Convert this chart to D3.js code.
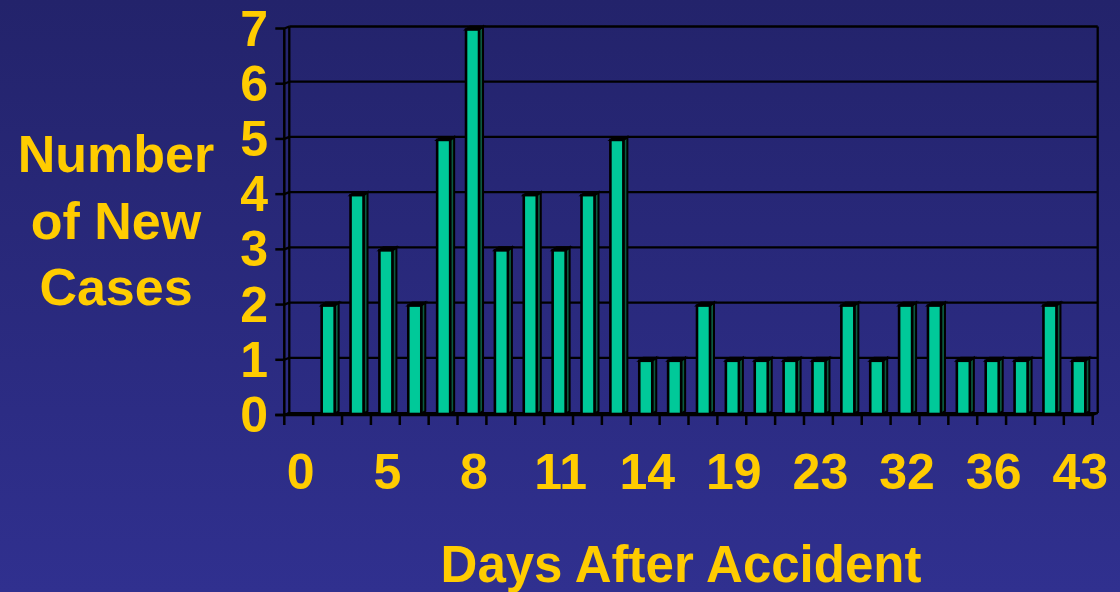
<!DOCTYPE html>
<html>
<head>
<meta charset="utf-8">
<script src="https://cdn.jsdelivr.net/npm/d3@7"></script>
<style>
  html, body { margin: 0; padding: 0; background: #2a2a80; }
  svg { display: block; }
  text { font-family: "Liberation Sans", Arial, sans-serif; font-weight: bold; fill: #ffcc00; }
</style>
</head>
<body>
<svg id="chart" width="1120" height="592"></svg>
<script>
// New cases per day, one column per reporting day
const newCases = [0, 2, 4, 3, 2, 5, 7, 3, 4, 3, 4, 5, 1, 1, 2, 1, 1, 1, 1, 2, 1, 2, 2, 1, 1, 1, 2, 1];
// Day labels shown under every third column
const dayLabels = ["0", "5", "8", "11", "14", "19", "23", "32", "36", "43"];
const dayLabelStep = 3;
const yTicks = [0, 1, 2, 3, 4, 5, 6, 7];
const yTitle = ["Number", "of New", "Cases"];
const xTitle = "Days After Accident";

const W = 1120, H = 592;
const svg = d3.select("#chart");

// backdrop gradient
const defs = svg.append("defs");
const grad = defs.append("linearGradient").attr("id", "bg").attr("x1", 0).attr("y1", 0).attr("x2", 0).attr("y2", 1);
grad.append("stop").attr("offset", "0%").attr("stop-color", "#23236b");
grad.append("stop").attr("offset", "100%").attr("stop-color", "#30308f");
svg.append("rect").attr("width", W).attr("height", H).attr("fill", "url(#bg)");

// 3D depth offset between the front plane and the back wall
const depthX = 5, depthY = -2;

const x = d3.scaleBand().domain(d3.range(newCases.length)).range([284.3, 1092.7]).padding(0);
const y = d3.scaleLinear().domain([0, 7]).range([415, 28.5]);   // front plane
const yWall = v => y(v) + depthY;                                // back wall

const xL = x.range()[0], xR = x.range()[1];

// back wall grid lines
const grid = svg.append("g").attr("stroke", "#000").attr("stroke-width", 2.3).attr("fill", "none");
grid.selectAll("line.h").data(yTicks.filter(v => v > 0)).join("line")
  .attr("x1", xL + depthX).attr("x2", xR + depthX)
  .attr("y1", d => yWall(d)).attr("y2", d => yWall(d));
// short connectors from front axis to wall
grid.selectAll("line.c").data(yTicks).join("line")
  .attr("x1", xL).attr("x2", xL + depthX)
  .attr("y1", d => y(d)).attr("y2", d => yWall(d));
// wall left and right edges
grid.append("line").attr("x1", xL + depthX).attr("x2", xL + depthX).attr("y1", yWall(7)).attr("y2", yWall(0));
grid.append("line").attr("x1", xR + depthX).attr("x2", xR + depthX).attr("y1", yWall(7)).attr("y2", yWall(0));

// floor
svg.append("path")
  .attr("d", `M${xL},${y(0)}L${xL + depthX},${yWall(0)}L${xR + depthX},${yWall(0)}L${xR},${y(0)}Z`)
  .attr("fill", "#000").attr("stroke", "#000").attr("stroke-width", 2);

// columns
const barOffset = 8.5, barW = 13, sideX = 4, sideY = -3;
const bars = svg.append("g");
newCases.forEach((v, i) => {
  if (v <= 0) return;
  const x0 = x(i) + barOffset, x1 = x0 + barW;
  const top = y(v) + 1, bot = y(0) - 1;
  const g = bars.append("g").attr("stroke", "#000").attr("stroke-linejoin", "miter");
  // side face
  g.append("path")
    .attr("d", `M${x1},${top}L${x1 + sideX},${top + sideY}L${x1 + sideX},${bot + sideY}L${x1},${bot}Z`)
    .attr("fill", "#0a5a40").attr("stroke-width", 2);
  // top face
  g.append("path")
    .attr("d", `M${x0},${top}L${x0 + sideX},${top + sideY}L${x1 + sideX},${top + sideY}L${x1},${top}Z`)
    .attr("fill", "#000").attr("stroke-width", 2);
  // front face
  g.append("rect")
    .attr("x", x0).attr("y", top).attr("width", barW).attr("height", bot - top)
    .attr("fill", "#00c999").attr("stroke-width", 2.6);
});

// front value axis
const yAxis = svg.append("g").attr("stroke", "#000").attr("stroke-width", 2.5);
yAxis.append("line").attr("x1", xL).attr("x2", xL).attr("y1", y(7)).attr("y2", y(0));
yAxis.selectAll("line.t").data(yTicks).join("line")
  .attr("x1", xL - 9).attr("x2", xL).attr("y1", d => y(d)).attr("y2", d => y(d));

// front category axis
const xAxis = svg.append("g").attr("stroke", "#000").attr("stroke-width", 2.5);
xAxis.append("line").attr("x1", xL - 9).attr("x2", xR).attr("y1", y(0)).attr("y2", y(0));
xAxis.selectAll("line.t").data(d3.range(newCases.length + 1)).join("line")
  .attr("x1", d => xL + d * x.bandwidth()).attr("x2", d => xL + d * x.bandwidth())
  .attr("y1", y(0)).attr("y2", y(0) + 10);

// value tick labels
svg.selectAll("text.yt").data(yTicks).join("text")
  .attr("class", "yt")
  .attr("x", 268).attr("y", d => y(d) + 17)
  .attr("text-anchor", "end").attr("font-size", 50)
  .text(d => d);

// day tick labels
svg.selectAll("text.xt").data(dayLabels).join("text")
  .attr("class", "xt")
  .attr("x", (d, i) => x(i * dayLabelStep) + x.bandwidth() / 2 + 2)
  .attr("y", 489)
  .attr("text-anchor", "middle").attr("font-size", 50)
  .text(d => d);

// axis titles
svg.selectAll("text.yl").data(yTitle).join("text")
  .attr("class", "yl")
  .attr("x", 116).attr("y", (d, i) => 172 + i * 66.5)
  .attr("text-anchor", "middle").attr("font-size", 52)
  .text(d => d);

svg.append("text")
  .attr("x", 681).attr("y", 582)
  .attr("text-anchor", "middle").attr("font-size", 51)
  .text(xTitle);
</script>
</body>
</html>
